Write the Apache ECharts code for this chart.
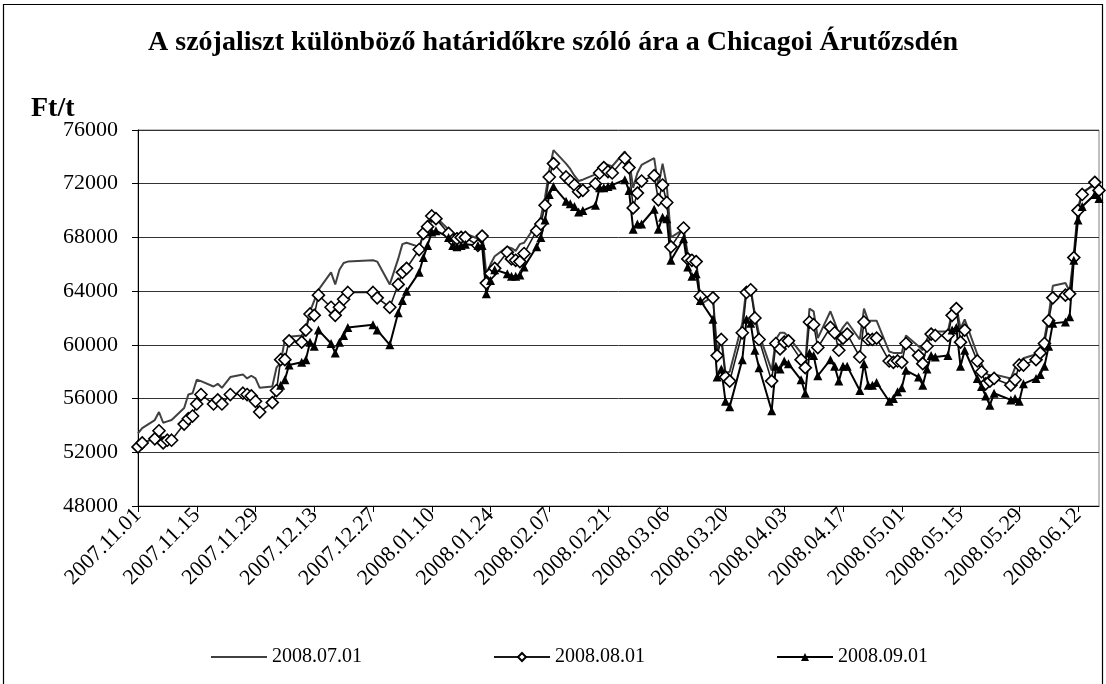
<!DOCTYPE html>
<html>
<head>
<meta charset="utf-8">
<script src="https://cdn.jsdelivr.net/npm/echarts@6/dist/echarts.min.js"></script>
<style>
html,body{margin:0;padding:0;background:#fff;}
#chart{width:1106px;height:684px;}
</style>
</head>
<body>
<div id="chart"></div>
<script>
// kereskedési napok
var dates = [
 '2007.11.01','2007.11.02','2007.11.05','2007.11.06','2007.11.07','2007.11.08','2007.11.09',
 '2007.11.12','2007.11.13','2007.11.14','2007.11.15','2007.11.16','2007.11.19','2007.11.20',
 '2007.11.21','2007.11.23','2007.11.26','2007.11.27','2007.11.28','2007.11.29','2007.11.30',
 '2007.12.03','2007.12.04','2007.12.05','2007.12.06','2007.12.07','2007.12.10','2007.12.11',
 '2007.12.12','2007.12.13','2007.12.14','2007.12.17','2007.12.18','2007.12.19','2007.12.20',
 '2007.12.21','2007.12.27','2007.12.28','2007.12.31',
 '2008.01.02','2008.01.03','2008.01.04','2008.01.07','2008.01.08','2008.01.09','2008.01.10',
 '2008.01.11','2008.01.14','2008.01.15','2008.01.16','2008.01.17','2008.01.18','2008.01.21',
 '2008.01.22','2008.01.23','2008.01.24','2008.01.25','2008.01.28','2008.01.29','2008.01.30',
 '2008.01.31',
 '2008.02.01','2008.02.04','2008.02.05','2008.02.06','2008.02.07','2008.02.08','2008.02.11',
 '2008.02.12','2008.02.13','2008.02.14','2008.02.15','2008.02.18','2008.02.19','2008.02.20',
 '2008.02.21','2008.02.22','2008.02.25','2008.02.26','2008.02.27','2008.02.28','2008.02.29',
 '2008.03.03','2008.03.04','2008.03.05','2008.03.06','2008.03.07','2008.03.10','2008.03.11',
 '2008.03.12','2008.03.13','2008.03.14','2008.03.17','2008.03.18','2008.03.19','2008.03.20',
 '2008.03.21','2008.03.24','2008.03.25','2008.03.26','2008.03.27','2008.03.28','2008.03.31',
 '2008.04.01','2008.04.02','2008.04.03','2008.04.04','2008.04.07','2008.04.08','2008.04.09',
 '2008.04.10','2008.04.11','2008.04.14','2008.04.15','2008.04.16','2008.04.17','2008.04.18',
 '2008.04.21','2008.04.22','2008.04.23','2008.04.24','2008.04.25','2008.04.28','2008.04.29',
 '2008.04.30',
 '2008.05.01','2008.05.02','2008.05.05','2008.05.06','2008.05.07','2008.05.08','2008.05.09',
 '2008.05.12','2008.05.13','2008.05.14','2008.05.15','2008.05.16','2008.05.19','2008.05.20',
 '2008.05.21','2008.05.22','2008.05.23','2008.05.27','2008.05.28','2008.05.29','2008.05.30',
 '2008.06.02','2008.06.03','2008.06.04','2008.06.05','2008.06.06','2008.06.09','2008.06.10',
 '2008.06.11','2008.06.12','2008.06.13','2008.06.16','2008.06.17'
];

// 2008.07.01 határidő
var jul = [
 53400,53800,54400,55000,54200,54300,54400,55300,56300,56400,57400,57300,56900,57100,
 56800,57600,57800,57500,57700,57500,56800,
 56900,58300,58700,60400,60600,60700,61200,62500,63300,64100,65400,64500,65600,66100,
 66200,66300,66200,64500,
 66400,67500,67600,67300,68200,69000,69700,69500,68600,68100,68300,68200,68300,67900,
 68400,65300,66000,66600,67300,67200,67000,67500,
 67600,69000,69500,71000,73000,74500,73500,73100,72600,72200,72300,72700,73200,73500,
 73400,73300,74400,73800,71700,72800,73400,
 73900,71800,73500,71900,68000,68600,66800,66600,66500,63000,63600,59500,60600,57900,
 58000,61600,64300,64200,62300,60800,58100,
 60400,60900,60900,60600,59400,58600,62700,62500,60500,62500,61700,60800,61300,61700,
 60400,62700,61800,61800,61800,59500,59400,59400,
 59400,60700,59900,59600,60400,61100,61000,61000,62500,62900,61200,61900,59300,58600,
 57900,57700,57800,57500,58300,58700,59000,
 59300,59800,60500,62200,64400,64600,64000,66800,70200,71400,71900,71700
];

// 2008.08.01 határidő
var aug = [
 52400,52700,53000,53600,52700,52900,52900,54100,54500,54700,55600,56300,55600,55900,
 55600,56300,56400,56300,56200,55800,55000,
 55700,56600,58900,58900,60300,60200,61100,62300,62200,63700,62800,62200,62800,63400,
 63900,63900,63500,62800,
 64500,65400,65700,67100,68300,68800,69600,69400,68300,67800,67900,68000,68000,67400,
 68100,64600,65300,65700,66900,66400,66300,66200,
 66800,68500,69000,70400,72500,73500,72500,72200,71900,71400,71500,72000,72800,73200,
 72900,72800,73900,73200,70200,71300,72200,
 72600,70800,71900,70600,67300,68700,66400,66300,66200,63600,63500,59200,60400,57600,
 57300,60900,63900,64100,62000,60400,57300,
 60100,59700,60200,60300,58900,58300,61700,61500,59800,61300,60900,59600,60500,60800,
 59100,61700,60400,60400,60500,58800,58700,58800,
 58700,60100,59200,58600,59900,60800,60700,60700,62200,62700,60200,61100,58800,58000,
 57100,57300,57500,57000,57400,58500,58500,
 58900,59400,60100,61800,63500,63700,63800,66500,70000,71200,72100,71500
];

// 2008.09.01 határidő
var sep = [
 null,null,null,null,null,null,null,null,null,null,null,null,null,null,
 null,null,null,null,null,null,null,
 null,null,57000,57400,58500,58700,58900,60200,59900,61100,60100,59400,60200,60700,
 61300,61500,61100,60000,
 62400,63300,64000,65400,66500,67400,68400,68500,68000,67400,67300,67400,67500,67400,
 67400,63800,64800,65600,65300,65100,65100,65200,
 65800,67300,68000,69300,71200,71800,70700,70500,70300,69900,70000,70400,71700,71700,
 71800,71900,72300,71500,68600,69000,69000,
 70100,68600,69500,69400,66300,67900,65800,65100,65300,63300,61900,57600,58200,55800,
 55400,58900,61900,61600,59600,58300,55100,
 58400,58200,58800,58600,57400,56400,59400,59200,57700,58900,58400,57300,58400,58400,
 56600,58600,57000,57000,57200,55800,56000,56500,
 56800,58100,57600,57000,58200,59200,59100,59200,61100,61300,58400,59600,57500,56900,
 56200,55500,56400,55900,56000,55800,57100,
 57500,57800,58400,59900,61600,61700,62100,66300,69300,70300,71200,70900
];

var seriesNames = ['2008.07.01', '2008.08.01', '2008.09.01'];
var yTicks = [48000, 52000, 56000, 60000, 64000, 68000, 72000, 76000];

var startMs = Date.UTC(2007, 10, 1);
function dayIndex(s) {
	var p = s.split('.');
	return Math.round((Date.UTC(+p[0], +p[1] - 1, +p[2]) - startMs) / 86400000);
}
function dayLabel(d) {
	var t = new Date(startMs + d * 86400000);
	var m = t.getUTCMonth() + 1, dd = t.getUTCDate();
	return t.getUTCFullYear() + '.' + (m < 10 ? '0' + m : m) + '.' + (dd < 10 ? '0' + dd : dd);
}
function pairs(vals) {
	var out = [];
	for (var i = 0; i < dates.length; i++) {
		out.push([dayIndex(dates[i]), vals[i] == null ? '-' : vals[i]]);
	}
	return out;
}

var font = '"Liberation Serif","Times New Roman",serif';
var myChart = echarts.init(document.getElementById('chart'));
var option = {
	animation: false,
	backgroundColor: '#fff',
	title: [{
		text: 'A szójaliszt különböző határidőkre szóló ára a Chicagoi Árutőzsdén',
		left: 'center',
		top: 24,
		textStyle: { fontFamily: font, fontSize: 28, fontWeight: 'bold', color: '#000' }
	}, {
		text: 'Ft/t',
		left: 26,
		top: 90,
		textStyle: { fontFamily: font, fontSize: 28, fontWeight: 'bold', color: '#000' }
	}],
	graphic: [{
		type: 'rect',
		shape: { x: 3.5, y: 4.5, width: 1099, height: 700 },
		style: { fill: 'none', stroke: '#000', lineWidth: 1.2 }
	}],
	legend: {
		bottom: 12,
		left: 205,
		itemGap: 131,
		itemWidth: 56,
		itemHeight: 10,
		data: [
			{ name: seriesNames[0], itemStyle: { opacity: 0 } },
			seriesNames[1],
			seriesNames[2]
		],
		textStyle: { fontFamily: font, fontSize: 20, color: '#000' }
	},
	grid: {
		left: 138, right: 7, top: 130, bottom: 178,
		show: true, borderColor: '#808080', borderWidth: 1
	},
	xAxis: {
		type: 'value',
		min: 0,
		max: dayIndex('2008.06.17'),
		interval: 14,
		splitLine: { show: false },
		axisLine: { lineStyle: { color: '#000', width: 1 } },
		axisTick: { length: 6, lineStyle: { color: '#000' } },
		axisLabel: {
			rotate: 45,
			margin: 6,
			showMaxLabel: false,
			fontFamily: font, fontSize: 22, color: '#000',
			formatter: function (v) { return dayLabel(v); }
		}
	},
	yAxis: {
		type: 'value',
		min: yTicks[0],
		max: yTicks[yTicks.length - 1],
		interval: yTicks[1] - yTicks[0],
		axisLine: { show: true, lineStyle: { color: '#000', width: 1 } },
		axisTick: { show: true, length: 6, lineStyle: { color: '#000' } },
		splitLine: { lineStyle: { color: '#333', width: 1 } },
		axisLabel: {
			margin: 20,
			fontFamily: font, fontSize: 22, color: '#000',
			formatter: function (v) { return String(v); }
		}
	},
	series: [{
		name: seriesNames[0],
		type: 'line',
		symbol: 'none',
		lineStyle: { color: '#404040', width: 2 },
		itemStyle: { color: '#404040' },
		data: pairs(jul)
	}, {
		name: seriesNames[1],
		type: 'line',
		symbol: 'diamond',
		symbolSize: 12,
		lineStyle: { color: '#1a1a1a', width: 1.6 },
		itemStyle: { color: '#fff', borderColor: '#000', borderWidth: 1.6 },
		data: pairs(aug)
	}, {
		name: seriesNames[2],
		type: 'line',
		symbol: 'triangle',
		symbolSize: 9,
		lineStyle: { color: '#000', width: 2 },
		itemStyle: { color: '#000' },
		data: pairs(sep)
	}]
};
myChart.setOption(option);
</script>
</body>
</html>
